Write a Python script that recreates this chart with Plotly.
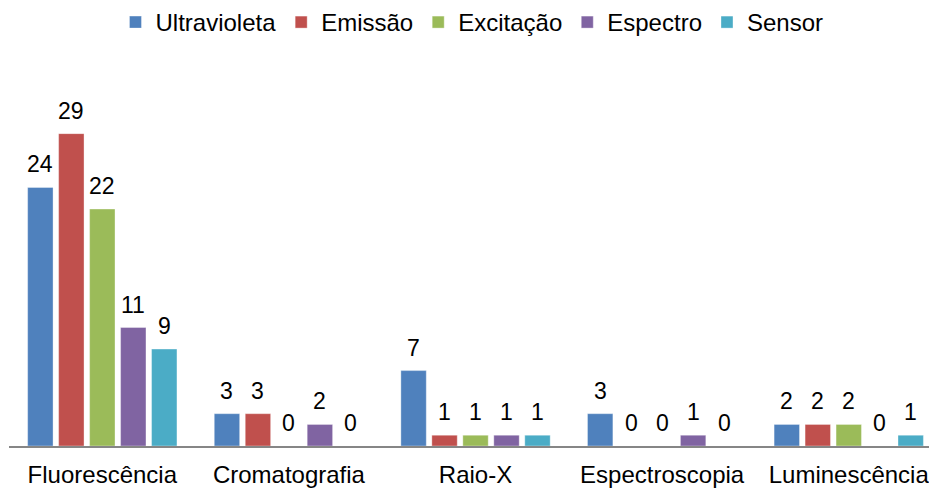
import plotly.graph_objects as go

categories = ["Fluorescência", "Cromatografia", "Raio-X", "Espectroscopia", "Luminescência"]
series_names = ["Ultravioleta", "Emissão", "Excitação", "Espectro", "Sensor"]
ultravioleta = [24, 3, 7, 3, 2]
emissao = [29, 3, 1, 0, 2]
excitacao = [22, 0, 1, 0, 2]
espectro = [11, 2, 1, 1, 0]
sensor = [9, 0, 1, 0, 1]
series_values = [ultravioleta, emissao, excitacao, espectro, sensor]
colors = ["#4F81BD", "#C0504D", "#9BBB59", "#8064A2", "#4BACC6"]

W, H = 929, 490
ML, MR, MT, MB = 9, 0, 69, 44
XRANGE = [-0.5, 4.43]
BARGAP = 0.17
nser = len(series_names)

fig = go.Figure()
for name, vals, col in zip(series_names, series_values, colors):
    fig.add_trace(go.Bar(
        x=categories, y=vals, name=name,
        marker=dict(color=col, line=dict(width=1, color="rgba(255,255,255,0.35)")),
    ))

# data labels as annotations placed above each bar (offset into its group slot)
cat_px = (W - ML - MR) / (XRANGE[1] - XRANGE[0])
slot = cat_px * (1 - BARGAP) / nser
annotations = []
for i, vals in enumerate(series_values):
    for cat, v in zip(categories, vals):
        annotations.append(dict(
            x=cat, y=v, xref="x", yref="y", text=str(v), showarrow=False,
            xanchor="center", yanchor="bottom",
            xshift=(i - (nser - 1) / 2) * slot, yshift=8,
            font=dict(size=23, color="black"),
        ))

fig.update_layout(
    width=W, height=H,
    margin=dict(l=ML, r=MR, t=MT, b=MB),
    barmode="group", bargap=BARGAP, bargroupgap=0.18,
    plot_bgcolor="white", paper_bgcolor="white",
    font=dict(family="Liberation Sans, Arial, sans-serif", size=24, color="black"),
    legend=dict(orientation="h", x=0.5 + 3 / W, xanchor="center", y=1.0, yanchor="top",
                yref="container", font=dict(size=24)),
    xaxis=dict(range=XRANGE, showline=True, linecolor="#868686", linewidth=2,
               ticks="", showgrid=False, tickfont=dict(size=24), ticklabelstandoff=6),
    yaxis=dict(range=[0, 35], visible=False, showgrid=False),
    annotations=annotations,
)
fig.write_html("out.html")
